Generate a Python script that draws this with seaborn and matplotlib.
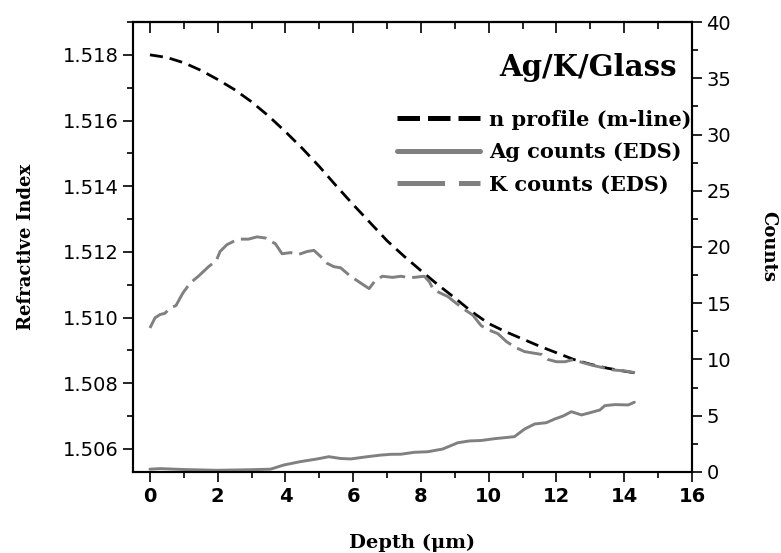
import numpy as np
import pandas as pd
import seaborn as sns
import matplotlib
matplotlib.use("Agg")
import matplotlib.pyplot as plt
from matplotlib.lines import Line2D
from matplotlib.ticker import MultipleLocator, FormatStrFormatter

# n profile (m-line), refractive index vs depth
n_depth = [0.0, 0.5, 1.0, 1.5, 2.0, 2.5, 3.0, 3.5, 4.0, 4.5, 5.0, 5.5, 6.0, 6.5, 7.0,
           7.5, 8.0, 8.5, 9.0, 9.5, 10.0, 10.5, 11.0, 11.5, 12.0, 12.5, 13.0, 13.5, 14.0, 14.3]
n_index = [1.51800, 1.51792, 1.51776, 1.51753, 1.51725, 1.51694, 1.51657, 1.51614, 1.51566,
           1.51515, 1.51460, 1.51401, 1.51344, 1.51289, 1.51234, 1.51187, 1.51143, 1.51100,
           1.51060, 1.51018, 1.50982, 1.50957, 1.50935, 1.50913, 1.50893, 1.50873, 1.50858,
           1.50846, 1.50837, 1.50832]

# Ag counts (EDS)
ag_depth = [0.0, 0.3, 0.99, 1.98, 2.96, 3.56, 3.95, 4.44, 4.94, 5.28, 5.63, 5.93, 6.42, 6.81,
            7.11, 7.41, 7.8, 8.2, 8.64, 9.09, 9.43, 9.78, 10.17, 10.47, 10.76, 11.06, 11.36,
            11.7, 11.95, 12.2, 12.44, 12.74, 13.04, 13.28, 13.43, 13.73, 14.12, 14.3]
ag_counts = [0.25, 0.3, 0.22, 0.15, 0.2, 0.25, 0.62, 0.92, 1.16, 1.36, 1.2, 1.16, 1.36, 1.5,
             1.57, 1.58, 1.75, 1.8, 2.04, 2.6, 2.76, 2.8, 2.96, 3.05, 3.14, 3.82, 4.27,
             4.38, 4.71, 4.98, 5.36, 5.07, 5.31, 5.51, 5.9, 5.99, 5.96, 6.2]

# K counts (EDS)
k_depth = [0.0, 0.15, 0.3, 0.44, 0.59, 0.77, 0.97, 1.19, 1.43, 1.73, 1.96, 2.07, 2.27, 2.47,
           2.67, 2.91, 3.16, 3.41, 3.56, 3.7, 3.9, 4.15, 4.4, 4.64, 4.84, 5.04, 5.23, 5.43,
           5.63, 5.88, 6.07, 6.32, 6.47, 6.62, 6.86, 7.16, 7.41, 7.6, 7.8, 8.1, 8.25, 8.35,
           8.54, 8.79, 9.04, 9.28, 9.53, 9.78, 10.02, 10.27, 10.52, 10.77, 11.06, 11.36,
           11.56, 11.75, 12.0, 12.25, 12.44, 12.69, 13.04, 13.33, 13.68, 14.02, 14.32]
k_counts = [12.8, 13.7, 14.0, 14.1, 14.55, 14.8, 15.9, 16.8, 17.4, 18.25, 18.8, 19.6, 20.2, 20.5,
            20.7, 20.7, 20.9, 20.8, 20.5, 20.3, 19.4, 19.5, 19.35, 19.6, 19.7, 19.15, 18.55,
            18.25, 18.15, 17.5, 17.1, 16.6, 16.3, 16.9, 17.4, 17.3, 17.4, 17.3, 17.3, 17.4,
            16.9, 16.3, 15.95, 15.6, 15.0, 14.45, 13.95, 13.0, 12.6, 12.3, 11.6, 11.1, 10.7,
            10.55, 10.45, 10.0, 9.8, 9.8, 9.95, 9.8, 9.5, 9.3, 9.07, 8.98, 8.83]

labels = ["n profile (m-line)", "Ag counts (EDS)", "K counts (EDS)"]
gray = "#808080"
txt_font = "DejaVu Serif"

sns.set_style("ticks")
plt.rcParams["font.family"] = ["DejaVu Sans"]
plt.rcParams.update({"text.color": "black", "axes.labelcolor": "black",
                     "xtick.color": "black", "ytick.color": "black"})

fig = plt.figure(figsize=(7.81, 5.53), dpi=100)
ax = fig.add_axes([0.1703, 0.1465, 0.7157, 0.8137])
ax2 = ax.twinx()

n_df = pd.DataFrame({"depth": n_depth, "n": n_index})
ag_df = pd.DataFrame({"depth": ag_depth, "counts": ag_counts})
k_df = pd.DataFrame({"depth": k_depth, "counts": k_counts})

sns.lineplot(data=n_df, x="depth", y="n", ax=ax, color="black", lw=2.0,
             estimator=None, sort=False)
ax.lines[-1].set_dashes([4.7, 2.5])

sns.lineplot(data=ag_df, x="depth", y="counts", ax=ax2, color=gray, lw=2.1,
             estimator=None, sort=False)
sns.lineplot(data=k_df, x="depth", y="counts", ax=ax2, color=gray, lw=2.1,
             estimator=None, sort=False)
ax2.lines[-1].set_dashes([8.9, 2.4])

ax.set_xlim(-0.5, 16)
ax.set_ylim(1.5053, 1.519)
ax2.set_ylim(0, 40)

ax.xaxis.set_major_locator(MultipleLocator(2))
ax.xaxis.set_minor_locator(MultipleLocator(1))
ax.yaxis.set_major_locator(MultipleLocator(0.002))
ax.yaxis.set_minor_locator(MultipleLocator(0.001))
ax.yaxis.set_major_formatter(FormatStrFormatter("%.3f"))
ax2.yaxis.set_major_locator(MultipleLocator(5))
ax2.yaxis.set_minor_locator(MultipleLocator(2.5))

for a in (ax, ax2):
    for s in a.spines.values():
        s.set_visible(True)
        s.set_linewidth(1.5)
        s.set_color("black")

ax.tick_params(axis="both", which="major", direction="out", length=7, width=1.2,
               labelsize=14, colors="black")
ax.tick_params(axis="both", which="minor", direction="out", length=4, width=1.2)
ax.tick_params(axis="x", top=False)
ax2.tick_params(axis="y", which="major", direction="out", length=7, width=1.2,
                labelsize=14, colors="black")
ax2.tick_params(axis="y", which="minor", direction="out", length=4, width=1.2)
for t in ax.get_xticklabels():
    t.set_fontweight("bold")

top = ax.secondary_xaxis("top")
top.xaxis.set_major_locator(MultipleLocator(2))
top.xaxis.set_minor_locator(MultipleLocator(1))
top.tick_params(which="major", direction="in", length=8, width=1.2, labeltop=False)
top.tick_params(which="minor", direction="in", length=5, width=1.2)
top.spines["top"].set_linewidth(1.5)

ax.set_xlabel("Depth (\u03bcm)", fontsize=14, fontweight="bold", family=txt_font, labelpad=20)
ax.set_ylabel("Refractive Index", fontsize=13, fontweight="bold", family=txt_font, labelpad=20)
ax2.set_ylabel("Counts", fontsize=13, fontweight="bold", family=txt_font, labelpad=20,
               rotation=270, va="bottom")

ax.text(0.973, 0.9, "Ag/K/Glass", transform=ax.transAxes, ha="right", va="center",
        fontsize=21, fontweight="bold", family=txt_font)

handles = [Line2D([], [], color="black", lw=3.6, dashes=[4.5, 1.6]),
           Line2D([], [], color=gray, lw=3.6),
           Line2D([], [], color=gray, lw=3.6, dashes=[9.5, 2.8])]
leg = ax.legend(handles, labels, loc="upper right", bbox_to_anchor=(1.0, 0.805),
                frameon=False, borderaxespad=0, borderpad=0, handlelength=4.0,
                handletextpad=0.45, labelspacing=0.6,
                prop={"family": txt_font, "weight": "bold", "size": 15})

fig.savefig("out.png", dpi=100)
